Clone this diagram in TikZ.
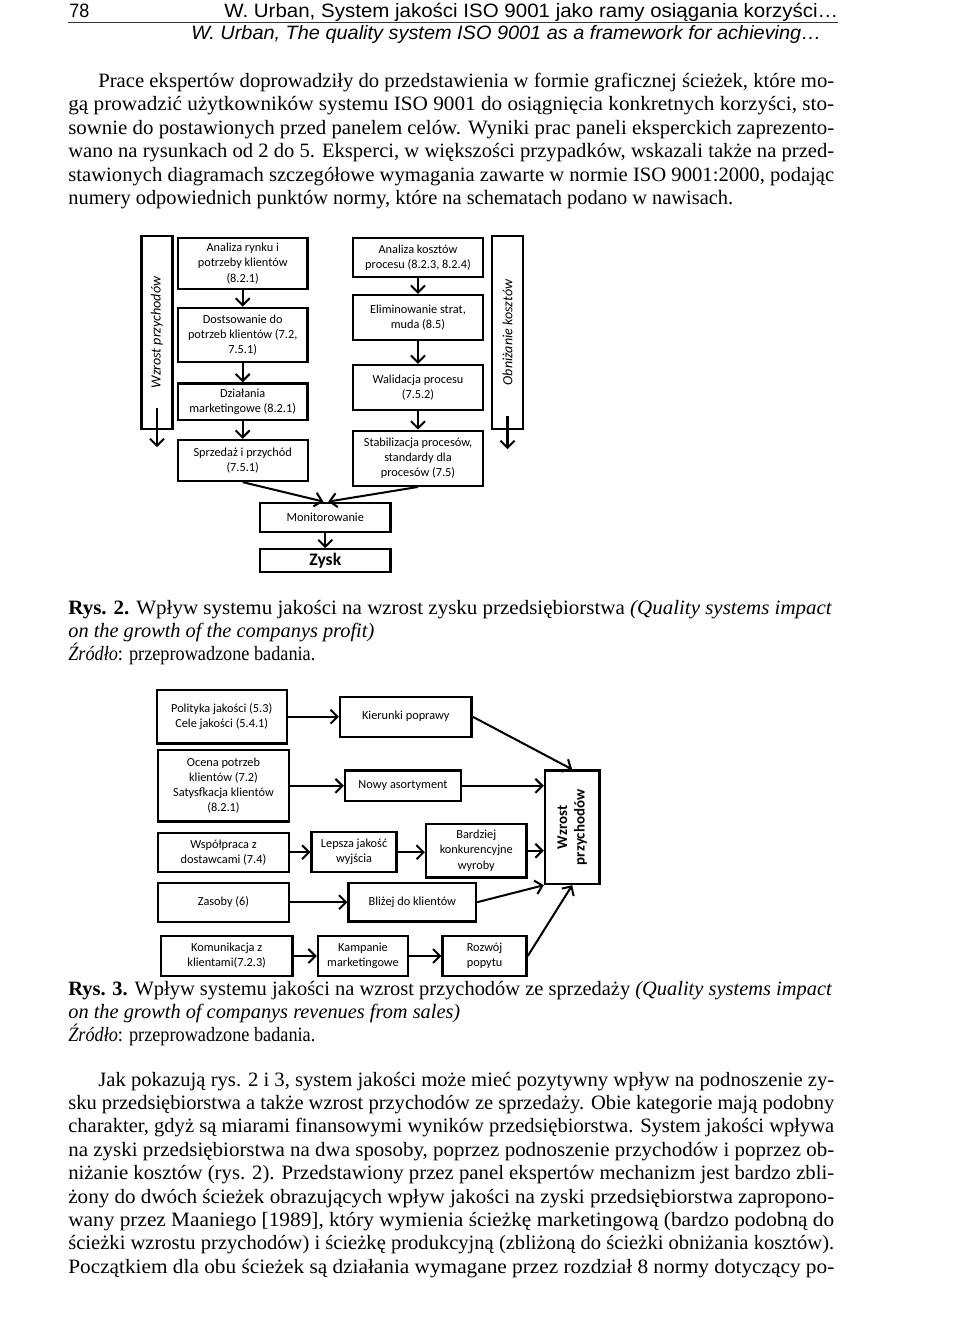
\documentclass[tikz,border=0pt]{standalone}
\usepackage{fontspec}
\setmainfont{Liberation Serif}
\newfontfamily\headfont{Liberation Sans}
\newfontfamily\diafont{Carlito}
\usepackage{graphicx}
\usetikzlibrary{arrows.meta,calc}
\newcommand{\fitline}[2]{\resizebox{#1}{\height}{#2}}

\begin{document}
\begin{tikzpicture}[
  x=0.02cm, y=-0.02cm,
  txt/.style={anchor=base west,inner sep=0pt,font=\fontsize{11.6}{13}\selectfont},
  hdr/.style={anchor=base west,inner sep=0pt,font=\headfont\fontsize{11}{13}\selectfont},
  flowbox/.style={draw,line width=1.3pt,align=center,inner sep=1pt,
                  font=\diafont\fontsize{7}{8.6}\selectfont},
  sidebox/.style={draw,line width=1.3pt,minimum width=0.62cm,minimum height=3.86cm},
  flow/.style={-{Straight Barb[length=1.4mm,width=2.8mm]},line width=1.15pt},
]
  \useasboundingbox[fill=white] (0,0) rectangle (960,1319);

  % Running head
  \node[hdr] (pg) at (69,17.5) {\fitline{0.4cm}{78}};
  \node[hdr] (head1) at (224,17.5) {\fitline{12.28cm}{W. Urban, System jakości ISO 9001 jako ramy osiągania korzyści…}};
  \draw[line width=0.9pt,black!80] (68,22.5) -- (838,22.5);
  \node[hdr,font=\headfont\itshape\fontsize{11}{13}\selectfont] (head2) at (191,39) {\fitline{12.6cm}{W. Urban, The quality system ISO 9001 as a framework for achieving…}};

  % First paragraph
  \node[txt] (p1a) at (98,87) {\fitline{14.72cm}{Prace ekspertów doprowadziły do przedstawienia w formie graficznej ścieżek, które mo-}};
  \node[txt] (p1b) at (68,110.5) {\fitline{15.32cm}{gą prowadzić użytkowników systemu ISO 9001 do osiągnięcia konkretnych korzyści, sto-}};
  \node[txt] (p1c) at (68,134) {\fitline{15.32cm}{sownie do postawionych przed panelem celów. Wyniki prac paneli eksperckich zaprezento-}};
  \node[txt] (p1d) at (68,157.5) {\fitline{15.32cm}{wano na rysunkach od 2 do 5. Eksperci, w większości przypadków, wskazali także na przed-}};
  \node[txt] (p1e) at (68,181) {\fitline{15.32cm}{stawionych diagramach szczegółowe wymagania zawarte w normie ISO 9001:2000, podając}};
  \node[txt] (p1f) at (68,204.5) {\fitline{13.3cm}{numery odpowiednich punktów normy, które na schematach podano w nawisach.}};

  % Rys. 2 -- side bars
  \node[sidebox] (vL) at (157,332.5) {};
  \node[rotate=90,font=\diafont\itshape\fontsize{8}{9}\selectfont] (vLtxt) at (vL.center) {Wzrost przychodów};
  \node[sidebox] (vR) at (507.5,332.5) {};
  \node[rotate=90,font=\diafont\itshape\fontsize{8}{9}\selectfont] (vRtxt) at (vR.center) {Obniżanie kosztów};
  \coordinate (vLa) at ($(vL.south)+(0,-22)$);
  \coordinate (vLb) at ($(vL.south)+(0,17)$);
  \coordinate (vRa) at ($(vR.south)+(0,-14)$);
  \coordinate (vRb) at ($(vR.south)+(0,19)$);
  \draw[flow] (vLa) -- (vLb);
  \draw[flow] (vRa) -- (vRb);

  % Rys. 2 -- revenue path
  \node[flowbox,minimum width=2.59cm,minimum height=1.03cm] (a1) at (242.7,263.5) {Analiza rynku i\\potrzeby klientów\\(8.2.1)};
  \node[flowbox,minimum width=2.59cm,minimum height=1.08cm] (a2) at (242.7,334.7) {Dostsowanie do\\potrzeb klientów (7.2,\\7.5.1)};
  \node[flowbox,minimum width=2.59cm,minimum height=0.73cm] (a3) at (242.7,401.7) {Działania\\marketingowe (8.2.1)};
  \node[flowbox,minimum width=2.6cm,minimum height=0.82cm] (a4) at (242.7,460.5) {Sprzedaż i przychód\\(7.5.1)};

  % Rys. 2 -- cost path
  \node[flowbox,minimum width=2.61cm,minimum height=0.78cm] (b1) at (418,257.5) {Analiza kosztów\\procesu (8.2.3, 8.2.4)};
  \node[flowbox,minimum width=2.61cm,minimum height=0.9cm] (b2) at (418,317.5) {Eliminowanie strat,\\muda (8.5)};
  \node[flowbox,minimum width=2.61cm,minimum height=0.9cm] (b3) at (418,387.5) {Walidacja procesu\\(7.5.2)};
  \node[flowbox,minimum width=2.61cm,minimum height=1.1cm] (b4) at (418,458.3) {Stabilizacja procesów,\\standardy dla\\procesów (7.5)};

  % Rys. 2 -- result
  \node[flowbox,minimum width=2.61cm,minimum height=0.58cm] (mon) at (325.3,517.2) {Monitorowanie};
  \node[flowbox,minimum width=2.61cm,minimum height=0.46cm,font=\diafont\bfseries\fontsize{10}{12}\selectfont] (zysk) at (325.3,560.8) {Zysk};

  \draw[flow] (a1) -- (a2);
  \draw[flow] (a2) -- (a3);
  \draw[flow] (a3) -- (a4);
  \draw[flow] (b1) -- (b2);
  \draw[flow] (b2) -- (b3);
  \draw[flow] (b3) -- (b4);
  \draw[flow] (a4.south) -- ($(mon.north)+(-2,0)$);
  \draw[flow] (b4.south) -- ($(mon.north)+(3,0)$);
  \draw[flow] (mon) -- (zysk);

  % Caption Rys. 2
  \node[txt] (cap2a) at (68,614) {\fitline{15.28cm}{\textbf{Rys. 2.} Wpływ systemu jakości na wzrost zysku przedsiębiorstwa \textit{(Quality systems impact}}};
  \node[txt] (cap2b) at (68,637) {\fitline{6.12cm}{\textit{on the growth of the companys profit)}}};
  \node[txt] (cap2c) at (68,660) {\fitline{4.94cm}{\textit{Źródło}: przeprowadzone badania.}};

  % Rys. 3 -- sources
  \node[flowbox,minimum width=2.6cm,minimum height=1.07cm] (c1) at (221.7,716.7) {Polityka jakości (5.3)\\Cele jakości (5.4.1)};
  \node[flowbox,minimum width=2.62cm,minimum height=1.43cm] (c2) at (223.5,785.8) {Ocena potrzeb\\klientów (7.2)\\Satysfkacja klientów\\(8.2.1)};
  \node[flowbox,minimum width=2.62cm,minimum height=0.78cm] (c3) at (223.5,852.2) {Współpraca z\\dostawcami (7.4)};
  \node[flowbox,minimum width=2.62cm,minimum height=0.78cm] (c4) at (223.5,902.2) {Zasoby (6)};
  \node[flowbox,minimum width=2.63cm,minimum height=0.8cm] (c5) at (226.7,956) {Komunikacja z\\klientami(7.2.3)};

  % Rys. 3 -- effects
  \node[flowbox,minimum width=2.63cm,minimum height=0.8cm] (kier) at (405.8,716.7) {Kierunki poprawy};
  \node[flowbox,minimum width=2.32cm,minimum height=0.61cm] (nowy) at (403,785.8) {Nowy asortyment};
  \node[flowbox,minimum width=1.7cm,minimum height=0.8cm] (lep) at (354.1,852.2) {Lepsza jakość\\wyjścia};
  \node[flowbox,minimum width=2.01cm,minimum height=1.07cm] (bard) at (476.3,850.7) {Bardziej\\konkurencyjne\\wyroby};
  \node[flowbox,minimum width=2.55cm,minimum height=0.77cm] (bliz) at (412.3,902.2) {Bliżej do klientów};
  \node[flowbox,minimum width=1.8cm,minimum height=0.8cm] (kamp) at (363,956) {Kampanie\\marketingowe};
  \node[flowbox,minimum width=1.68cm,minimum height=0.8cm] (rozw) at (484.6,956) {Rozwój\\popytu};
  \node[draw,line width=1.3pt,minimum width=1.09cm,minimum height=2.27cm] (wzr) at (572.2,827.3) {};
  \node[rotate=90,align=center,font=\diafont\bfseries\fontsize{8.5}{10}\selectfont] (wzrtxt) at (wzr.center) {Wzrost\\przychodów};

  \draw[flow] (c1) -- (kier);
  \draw[flow] (c2) -- (nowy);
  \draw[flow] (c3) -- (lep);
  \draw[flow] (lep) -- (lep -| bard.west);
  \draw[flow] (c4) -- (bliz);
  \draw[flow] (c5) -- (kamp);
  \draw[flow] (kamp) -- (rozw);
  \draw[flow] (kier.east) -- (wzr.north);
  \draw[flow] (nowy.east) -- (nowy.east -| wzr.west);
  \draw[flow] (bard.east) -- (bard.east -| wzr.west);
  \draw[flow] (bliz.east) -- (wzr.south west);
  \draw[flow] (rozw.east) -- (wzr.south);

  % Caption Rys. 3
  \node[txt] (cap3a) at (68,995) {\fitline{15.28cm}{\textbf{Rys. 3.} Wpływ systemu jakości na wzrost przychodów ze sprzedaży \textit{(Quality systems impact}}};
  \node[txt] (cap3b) at (68,1018) {\fitline{7.84cm}{\textit{on the growth of companys revenues from sales)}}};
  \node[txt] (cap3c) at (68,1041) {\fitline{4.94cm}{\textit{Źródło}: przeprowadzone badania.}};

  % Second paragraph
  \node[txt] (p2a) at (98,1086) {\fitline{14.72cm}{Jak pokazują rys. 2 i 3, system jakości może mieć pozytywny wpływ na podnoszenie zy-}};
  \node[txt] (p2b) at (68,1109.4) {\fitline{15.32cm}{sku przedsiębiorstwa a także wzrost przychodów ze sprzedaży. Obie kategorie mają podobny}};
  \node[txt] (p2c) at (68,1132.8) {\fitline{15.32cm}{charakter, gdyż są miarami finansowymi wyników przedsiębiorstwa. System jakości wpływa}};
  \node[txt] (p2d) at (68,1156.2) {\fitline{15.32cm}{na zyski przedsiębiorstwa na dwa sposoby, poprzez podnoszenie przychodów i poprzez ob-}};
  \node[txt] (p2e) at (68,1179.6) {\fitline{15.32cm}{niżanie kosztów (rys. 2). Przedstawiony przez panel ekspertów mechanizm jest bardzo zbli-}};
  \node[txt] (p2f) at (68,1203) {\fitline{15.32cm}{żony do dwóch ścieżek obrazujących wpływ jakości na zyski przedsiębiorstwa zapropono-}};
  \node[txt] (p2g) at (68,1226.4) {\fitline{15.32cm}{wany przez Maaniego [1989], który wymienia ścieżkę marketingową (bardzo podobną do}};
  \node[txt] (p2h) at (68,1249.8) {\fitline{15.32cm}{ścieżki wzrostu przychodów) i ścieżkę produkcyjną (zbliżoną do ścieżki obniżania kosztów).}};
  \node[txt] (p2i) at (68,1273.2) {\fitline{15.32cm}{Początkiem dla obu ścieżek są działania wymagane przez rozdział 8 normy dotyczący po-}};
\end{tikzpicture}
\end{document}
